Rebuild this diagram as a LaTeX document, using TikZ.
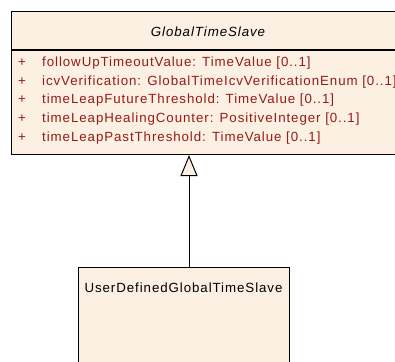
\documentclass[tikz,border=0pt]{standalone}
\usepackage{fontspec}
\usepackage{xcolor}
\usetikzlibrary{arrows.meta}
\newfontfamily\umlfont{Liberation Sans}[LetterSpace=7]
\definecolor{umlfill}{RGB}{251,240,226}
\definecolor{umlred}{RGB}{150,26,26}
\begin{document}
\begin{tikzpicture}[
  x=1pt, y=-1pt,
  classbox/.style={draw, line width=1pt, fill=umlfill, inner sep=0pt, anchor=north west},
  classname/.style={inner sep=0pt, font=\umlfont\fontsize{13.3}{15}\selectfont},
  attr/.style={anchor=base west, inner sep=0pt, text=umlred, font=\umlfont\fontsize{13.3}{15}\selectfont},
  generalization/.style={-{Triangle[open, length=21pt, width=17pt, fill=umlfill]}, line width=1pt}
]
\useasboundingbox (0,0) rectangle (395,361);
% abstract class with its attributes
\node[classbox, minimum width=394pt, minimum height=38pt] (gtshead) at (11,11) {};
\node[classname, font=\umlfont\itshape\fontsize{13.3}{15}\selectfont] (gtsname) at (208,32) {GlobalTimeSlave};
\node[classbox, minimum width=394pt, minimum height=104pt] (gtsattr) at (gtshead.south west) {};
\foreach \i/\t in {1/followUpTimeoutValue: TimeValue [0..1],
                   2/icvVerification: GlobalTimeIcvVerificationEnum [0..1],
                   3/timeLeapFutureThreshold: TimeValue [0..1],
                   4/timeLeapHealingCounter: PositiveInteger [0..1],
                   5/timeLeapPastThreshold: TimeValue [0..1]}{
  \node[attr] (plus\i) at (18,{66.5+18.7*(\i-1)}) {+};
  \node[attr] (attr\i) at (42,{66.5+18.7*(\i-1)}) {\t};
}
% derived class
\node[classbox, minimum width=211pt, minimum height=120pt] (uds) at (78,267) {};
\node[classname, anchor=base] (udsname) at (183.5,292.5) {UserDefinedGlobalTimeSlave};
\coordinate (gen) at (189,0);
\draw[generalization] (uds.north -| gen) -- (gtsattr.south -| gen);
\end{tikzpicture}
\end{document}
